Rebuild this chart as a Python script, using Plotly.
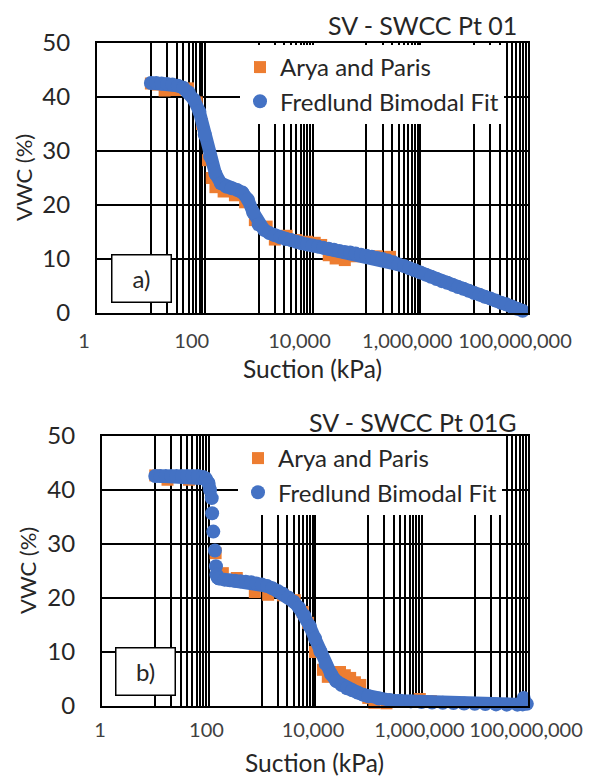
import plotly.graph_objects as go

# page body has an 8px margin: figure drawn at (8, 8) inside the 595x776 window
OFF = 8
W, H = 595 - OFF, 776 - OFF
FONT = "Lato"
TXT = "#262626"

# ---------------- Panel a) SV - SWCC Pt 01 ----------------
a_arya_suction = [10, 13.5, 18, 28, 49, 71, 89, 115, 135, 158, 224, 363, 562, 851,
                  1410, 2000, 3310, 5010, 7940, 11000, 14500, 20000, 26900, 39800,
                  63100, 100000, 158000, 275000]
a_arya_vwc = [42.5, 42.3, 41.2, 41.3, 41.6, 39.0, 35.0, 28.3, 25.0, 23.3, 22.5, 21.8, 20.5, 17.2,
              16.0, 13.6, 14.3, 13.5, 13.2, 13.0, 12.6, 10.7, 10.1, 9.8,
              10.5, 10.5, 10.5, 10.4]

a_fit_suction = [10, 12.6, 15.8, 20, 25.1, 31.6, 39.8, 50.1, 63.1, 79.4,
                 100, 126, 158, 200, 251, 316, 398, 501, 631, 794,
                 1000, 1260, 1580, 2000, 2510, 3160, 3980, 5010, 6310, 7940,
                 1e4, 1.26e4, 1.58e4, 2e4, 2.51e4, 3.16e4, 3.98e4, 5.01e4, 6.31e4, 7.94e4,
                 1e5, 1.26e5, 1.58e5, 2e5, 2.51e5, 3.16e5, 3.98e5, 5.01e5, 6.31e5, 7.94e5,
                 1e6, 1.26e6, 1.58e6, 2e6, 2.51e6, 3.16e6, 3.98e6, 5.01e6, 6.31e6, 7.94e6,
                 1e7, 1.26e7, 1.58e7, 2e7, 2.51e7, 3.16e7, 3.98e7, 5.01e7, 6.31e7, 7.94e7]
a_fit_vwc = [42.6, 42.6, 42.5, 42.4, 42.3, 42.1, 41.7, 40.9, 39.5, 37.3,
             33.0, 29.0, 25.8, 24.0, 23.4, 23.1, 22.8, 22.3, 21.0, 18.6,
             16.4, 15.4, 14.8, 14.4, 14.0, 13.7, 13.5, 13.2, 12.9, 12.7,
             12.5, 12.3, 12.1, 11.9, 11.7, 11.5, 11.3, 11.2, 11.0, 10.8,
             10.6, 10.4, 10.2, 10.0, 9.7, 9.4, 9.0, 8.7, 8.3, 7.9,
             7.5, 7.1, 6.7, 6.3, 5.9, 5.6, 5.2, 4.8, 4.5, 4.1,
             3.7, 3.4, 3.0, 2.7, 2.3, 1.9, 1.6, 1.2, 0.8, 0.4]

# ---------------- Panel b) SV - SWCC Pt 01G ----------------
b_arya_suction = [10, 17, 43, 70, 136, 186, 340, 741, 1320, 2500, 4170, 5890, 7410,
                  10000, 14100, 17400, 29500, 36300, 45700, 56200, 70800, 100000,
                  130000, 220000, 500000, 930000, 1500000]
b_arya_vwc = [42.7, 41.9, 41.9, 42.2, 28.3, 24.6, 23.7, 21.1, 20.6, 20.5, 19.6, 17.4, 15.4,
              10.0, 6.7, 5.4, 6.3, 5.7, 5.2, 4.4, 3.9, 1.5,
              0.6, 0.5, 0.8, 1.3, 0.9]

b_fit_suction = [10, 12.6, 15.8, 20, 25.1, 31.6, 39.8, 50.1, 63.1, 79.4,
                 89, 100, 107, 115, 117, 123, 132, 138, 141, 148, 158,
                 200, 251, 316, 398, 501, 631, 794,
                 1000, 1260, 1580, 2000, 2510, 3160, 3980, 5010, 6310, 7940,
                 1e4, 1.26e4, 1.58e4, 2e4, 2.51e4, 3.16e4, 3.98e4, 5.01e4, 6.31e4, 7.94e4,
                 1e5, 1.58e5, 2.51e5, 3.98e5, 6.31e5,
                 1e6, 1.58e6, 2.51e6, 3.98e6, 6.31e6,
                 1e7, 1.58e7, 2.51e7, 3.98e7, 6.31e7,
                 7.94e7, 8.3e7, 9.5e7]
b_fit_vwc = [42.6, 42.6, 42.6, 42.6, 42.6, 42.6, 42.6, 42.6, 42.6, 42.4,
             42.1, 41.3, 40.0, 38.5, 35.7, 32.3, 28.8, 25.9, 24.3, 23.8, 23.6,
             23.4, 23.3, 23.2, 23.1, 23.0, 22.9, 22.7,
             22.5, 22.2, 21.8, 21.3, 20.8, 20.1, 19.3, 18.2, 16.7, 14.8,
             12.5, 10.1, 7.8, 5.9, 4.6, 3.9, 3.3, 2.9, 2.5, 2.1,
             1.8, 1.4, 1.1, 0.95, 0.85,
             0.75, 0.65, 0.6, 0.55, 0.45,
             0.4, 0.35, 0.3, 0.25, 0.25,
             0.3, 1.5, 0.4]

# separated fit points on the steep part of panel b (no connecting band there)
b_steep_low, b_steep_high = 108, 140

x_tick_vals = [1, 100, 10000, 1000000, 100000000]
x_tick_text = ["1", "100", "10,000", "1,000,000", "100,000,000"]
y_tick_vals = [0, 10, 20, 30, 40, 50]
series_names = ["Arya and Paris", "Fredlund Bimodal Fit"]
panel_titles = ["SV - SWCC Pt 01", "SV - SWCC Pt 01G"]
panel_labels = ["a)", "b)"]

ORANGE = "#ED7D31"
BLUE = "#4472C4"
minor_grid = [k * 10 ** e for e in (1, 3, 5, 7) for k in range(1, 10)]


def px(x):
    """window pixel x -> paper fraction"""
    return (x - OFF) / W


def py(y):
    """window pixel y -> paper fraction"""
    return 1 - (y - OFF) / H


fig = go.Figure()

panels = [
    dict(xa="x", ya="y", leg="legend", arya=(a_arya_suction, a_arya_vwc),
         fit=(a_fit_suction, a_fit_vwc), band_mask=lambda s: True),
    dict(xa="x2", ya="y2", leg="legend2", arya=(b_arya_suction, b_arya_vwc),
         fit=(b_fit_suction, b_fit_vwc),
         band_mask=lambda s: not (b_steep_low < s < b_steep_high)),
]

for p in panels:
    fx, fy = p["fit"]
    fig.add_trace(go.Scatter(
        x=p["arya"][0], y=p["arya"][1], mode="markers", name=series_names[0],
        marker=dict(symbol="square", size=12, color=ORANGE),
        xaxis=p["xa"], yaxis=p["ya"], legend=p["leg"], cliponaxis=False))
    lx = [s if p["band_mask"](s) else None for s in fx]
    ly = [v if p["band_mask"](s) else None for s, v in zip(fx, fy)]
    fig.add_trace(go.Scatter(
        x=lx, y=ly, mode="lines", line=dict(color=BLUE, width=13),
        showlegend=False, hoverinfo="skip",
        xaxis=p["xa"], yaxis=p["ya"]))
    fig.add_trace(go.Scatter(
        x=fx, y=fy, mode="markers", name=series_names[1],
        marker=dict(symbol="circle", size=14, color=BLUE),
        xaxis=p["xa"], yaxis=p["ya"], legend=p["leg"], cliponaxis=False))

xcommon = dict(
    type="log", range=[0, 8], tickvals=x_tick_vals, ticktext=x_tick_text,
    showgrid=True, gridcolor="black", gridwidth=1.5,
    minor=dict(tickvals=minor_grid, showgrid=True, gridcolor="black", gridwidth=1.5, ticks=""),
    showline=True, linecolor="black", linewidth=2, mirror=True, ticks="",
    zeroline=False, tickfont=dict(family=FONT, size=20, color="#404040"),
    tickangle=0, automargin=False,
)
ycommon = dict(
    range=[0, 50], tickvals=y_tick_vals, showgrid=True, gridcolor="black", gridwidth=1.5,
    showline=True, linecolor="black", linewidth=2, mirror=True, ticks="",
    zeroline=False, tickfont=dict(family=FONT, size=24, color=TXT),
    ticklabelstandoff=20, automargin=False,
)

fig.update_layout(
    width=W, height=H, margin=dict(l=0, r=0, t=0, b=0, autoexpand=False),
    paper_bgcolor="white", plot_bgcolor="white",
    font=dict(family=FONT, color=TXT),
    xaxis=dict(domain=[px(97), px(528)], anchor="y", ticklabelshift=-13,
               ticklabelstandoff=9, **xcommon),
    yaxis=dict(domain=[py(313), py(43)], anchor="x", **ycommon),
    xaxis2=dict(domain=[px(102), px(528)], anchor="y2", ticklabelshift=-2,
                ticklabelstandoff=5, **xcommon),
    yaxis2=dict(domain=[py(706), py(436)], anchor="x2", **ycommon),
    legend=dict(x=px(240), y=py(45), xanchor="left", yanchor="top", bgcolor="white",
                font=dict(family=FONT, size=24, color=TXT), tracegroupgap=0),
    legend2=dict(x=px(238), y=py(436), xanchor="left", yanchor="top", bgcolor="white",
                 font=dict(family=FONT, size=24, color=TXT), tracegroupgap=0),
    showlegend=True,
)

ann = []
for title, ty in zip(panel_titles, [25, 422]):
    ann.append(dict(text=title, x=px(519), y=py(ty), xref="paper", yref="paper",
                    xanchor="right", yanchor="middle", showarrow=False,
                    font=dict(family=FONT, size=25, color=TXT)))
for xx, yy in [(312, 368), (314, 762)]:
    ann.append(dict(text="Suction (kPa)", x=px(xx), y=py(yy), xref="paper", yref="paper",
                    xanchor="center", yanchor="middle", showarrow=False,
                    font=dict(family=FONT, size=24.5, color=TXT)))
for xx, yy in [(24, 178), (27, 571)]:
    ann.append(dict(text="VWC (%)", x=px(xx), y=py(yy), xref="paper", yref="paper",
                    xanchor="center", yanchor="middle", showarrow=False, textangle=-90,
                    font=dict(family=FONT, size=22, color=TXT)))
for lab, (xx, yy) in zip(panel_labels, [(141, 278), (145, 671.5)]):
    ann.append(dict(text=lab, x=px(xx), y=py(yy), xref="paper", yref="paper",
                    xanchor="center", yanchor="middle", showarrow=False,
                    width=58, height=46, borderpad=0, borderwidth=1.5,
                    bordercolor="black", bgcolor="white",
                    font=dict(family=FONT, size=24, color=TXT)))
fig.update_layout(annotations=ann)

fig.write_html("out.html")
